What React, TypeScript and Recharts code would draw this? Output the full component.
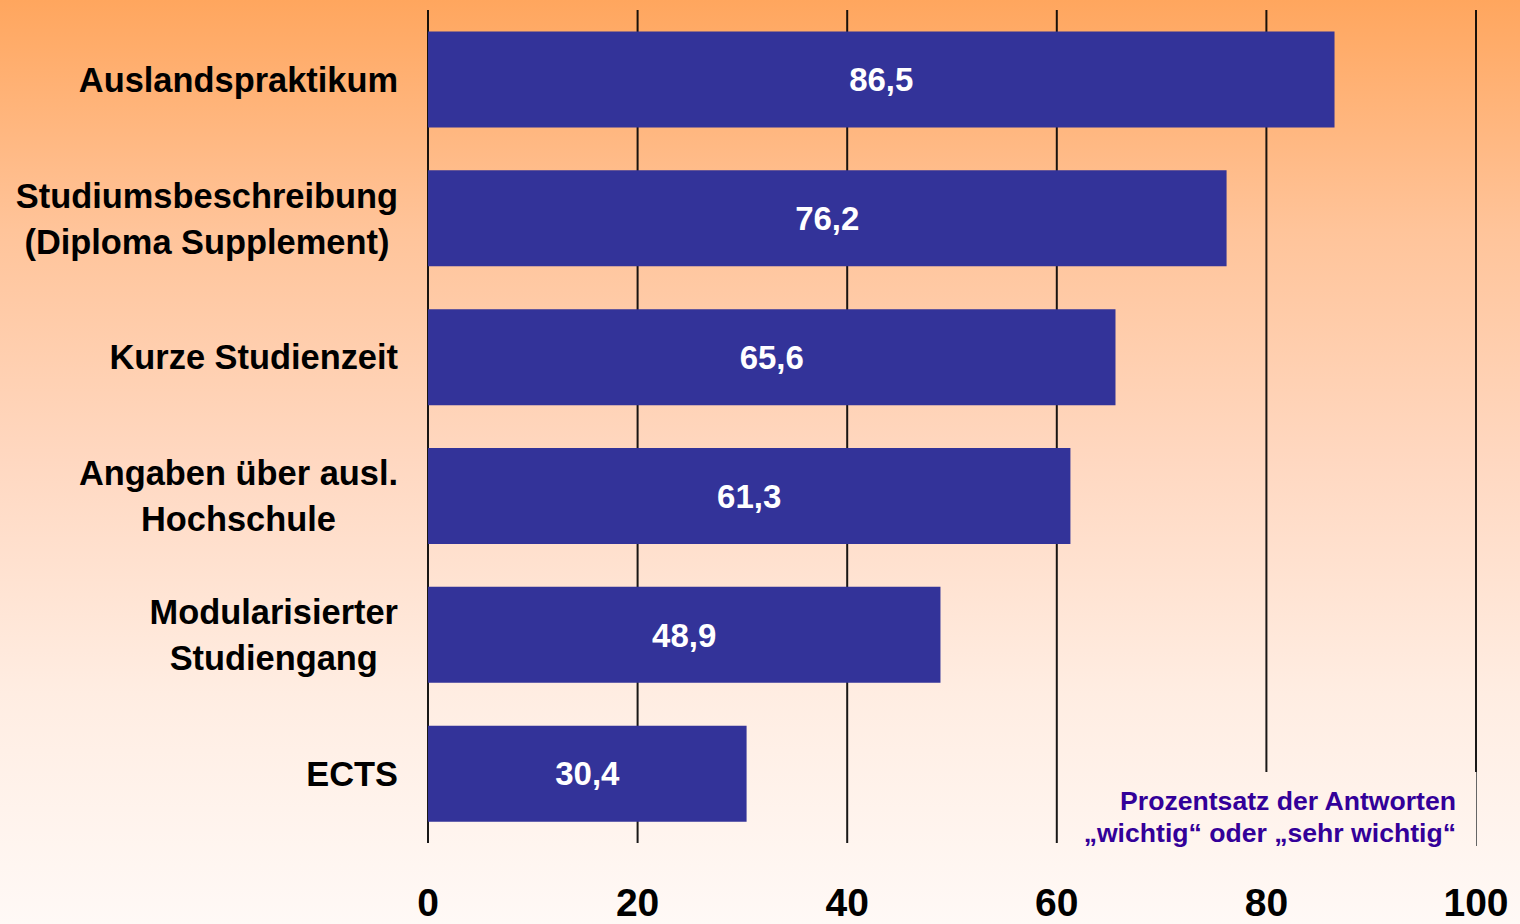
import React from 'react';
import { BarChart, Bar, XAxis, YAxis, CartesianGrid, LabelList } from 'recharts';

const categories = [
  'Auslandspraktikum',
  'Studiumsbeschreibung\n(Diploma Supplement)',
  'Kurze Studienzeit',
  'Angaben über ausl.\nHochschule',
  'Modularisierter\nStudiengang',
  'ECTS',
];
const values = [86.5, 76.2, 65.6, 61.3, 48.9, 30.4];
const xTicks = [0, 20, 40, 60, 80, 100];
const noteLines = ['Prozentsatz der Antworten', '„wichtig“ oder „sehr wichtig“'];

const data = categories.map((name, i) => ({ name, value: values[i] }));

const FONT = "'Liberation Sans', Arial, sans-serif";
const BG = 'linear-gradient(to bottom, #FFA65E 0%, #FFC49A 25%, #FFD8C1 50%, #FFEDE2 75%, #FFF9F6 100%)';
const CAT_SIZE = 34.4;

let ctx: CanvasRenderingContext2D | null = null;
const measure = (s: string, font: string) => {
  if (!ctx) ctx = document.createElement('canvas').getContext('2d');
  if (!ctx) return s.length * 18;
  ctx.font = font;
  return ctx.measureText(s).width;
};

const CategoryTick = (props: any) => {
  const { x, y, payload } = props;
  const lines: string[] = String(payload.value).split('\n');
  const font = `bold ${CAT_SIZE}px ${FONT}`;
  const w = Math.max(...lines.map((l) => measure(l, font)));
  const cx = x - 30 - w / 2;
  const lh = 46;
  const top = y - ((lines.length - 1) * lh) / 2;
  return (
    <g>
      {lines.map((l, i) => (
        <text
          key={i}
          x={cx}
          y={top + i * lh}
          dy="0.36em"
          textAnchor="middle"
          fontFamily={FONT}
          fontWeight="bold"
          fontSize={CAT_SIZE}
          fill="#000"
        >
          {l}
        </text>
      ))}
    </g>
  );
};

const ValueTick = (props: any) => {
  const { x, y, payload } = props;
  return (
    <text x={x} y={y + 59} dy="0.36em" textAnchor="middle" fontFamily={FONT} fontWeight="bold" fontSize={39} fill="#000">
      {payload.value}
    </text>
  );
};

export default function App() {
  return (
    <div style={{ position: 'absolute', left: 0, top: 0, width: 1520, height: 924, background: BG, overflow: 'hidden' }}>
      <BarChart
        layout="vertical"
        width={1520}
        height={924}
        data={data}
        margin={{ top: 10, right: 44, bottom: 0, left: 0 }}
        barCategoryGap="15.5%"
      >
        <CartesianGrid horizontal={false} stroke="#000" strokeWidth={2} strokeOpacity={0.9} />
        <XAxis
          type="number"
          domain={[0, 100]}
          ticks={xTicks}
          axisLine={false}
          tickLine={false}
          tickSize={0}
          tickMargin={0}
          height={81}
          tick={<ValueTick />}
          interval={0}
        />
        <YAxis
          type="category"
          dataKey="name"
          width={428}
          axisLine={false}
          tickLine={false}
          tickSize={0}
          tickMargin={0}
          tick={<CategoryTick />}
          interval={0}
        />
        <Bar dataKey="value" fill="#333399" isAnimationActive={false}>
          <LabelList
            dataKey="value"
            position="center"
            fill="#fff"
            fontFamily={FONT}
            fontWeight="bold"
            fontSize={33}
            formatter={(v: any) => String(v).replace('.', ',')}
          />
        </Bar>
      </BarChart>
      <div
        style={{
          position: 'absolute',
          left: 1065,
          top: 772,
          width: 391,
          height: 61,
          paddingRight: 20,
          paddingTop: 13,
          boxSizing: 'content-box',
          background: BG,
          backgroundSize: '1520px 924px',
          backgroundPosition: '-1065px -772px',
          borderRight: '1px solid #666',
          textAlign: 'right',
          fontFamily: FONT,
          fontWeight: 'bold',
          fontSize: 26.6,
          lineHeight: '32px',
          color: '#330099',
          whiteSpace: 'nowrap',
        }}
      >
        {noteLines.map((l, i) => (
          <div key={i}>{l}</div>
        ))}
      </div>
    </div>
  );
}
